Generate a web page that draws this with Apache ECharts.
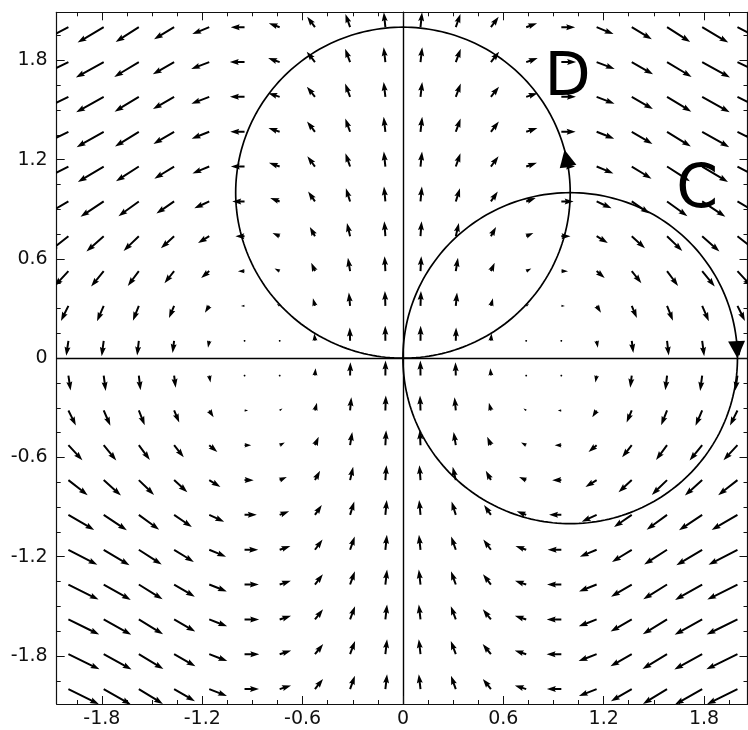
<!DOCTYPE html>
<html><head><meta charset="utf-8">
<script src="https://cdn.jsdelivr.net/npm/echarts@6/dist/echarts.min.js"></script>
<style>html,body{margin:0;padding:0;background:#fff}#c{width:748px;height:730px}</style>
</head><body><div id="c"></div>
<script>
// grid sample positions of the arrows
const gridX = [-2.0,-1.789,-1.579,-1.368,-1.158,-0.947,-0.737,-0.526,-0.316,-0.105,0.105,0.316,0.526,0.737,0.947,1.158,1.368,1.579,1.789,2.0];
const gridY = [-2.0,-1.789,-1.579,-1.368,-1.158,-0.947,-0.737,-0.526,-0.316,-0.105,0.105,0.316,0.526,0.737,0.947,1.158,1.368,1.579,1.789,2.0];

// horizontal component, one row per gridY value (bottom to top)
const fieldU = [
 [1.96,1.75,1.55,1.34,1.14,0.93,0.73,0.52,0.31,0.11,-0.11,-0.31,-0.52,-0.73,-0.93,-1.14,-1.34,-1.55,-1.75,-1.96],
 [2.0,1.79,1.58,1.37,1.16,0.95,0.74,0.53,0.32,0.11,-0.11,-0.32,-0.53,-0.74,-0.95,-1.16,-1.37,-1.58,-1.79,-2.0],
 [1.98,1.77,1.56,1.36,1.15,0.94,0.73,0.52,0.32,0.11,-0.11,-0.32,-0.52,-0.73,-0.94,-1.15,-1.36,-1.56,-1.77,-1.98],
 [1.94,1.74,1.53,1.33,1.13,0.92,0.72,0.51,0.31,0.11,-0.11,-0.31,-0.51,-0.72,-0.92,-1.13,-1.33,-1.53,-1.74,-1.94],
 [1.86,1.66,1.47,1.27,1.08,0.88,0.69,0.49,0.30,0.10,-0.10,-0.30,-0.49,-0.69,-0.88,-1.08,-1.27,-1.47,-1.66,-1.86],
 [1.66,1.49,1.31,1.14,0.96,0.79,0.61,0.44,0.27,0.09,-0.09,-0.27,-0.44,-0.61,-0.79,-0.96,-1.14,-1.31,-1.49,-1.66],
 [1.24,1.11,0.98,0.85,0.72,0.59,0.46,0.33,0.20,0.07,-0.07,-0.20,-0.33,-0.46,-0.59,-0.72,-0.85,-0.98,-1.11,-1.24],
 [0.90,0.81,0.71,0.62,0.52,0.43,0.33,0.24,0.14,0.05,-0.05,-0.14,-0.24,-0.33,-0.43,-0.52,-0.62,-0.71,-0.81,-0.90],
 [0.48,0.43,0.38,0.33,0.28,0.23,0.18,0.13,0.08,0.03,-0.03,-0.08,-0.13,-0.18,-0.23,-0.28,-0.33,-0.38,-0.43,-0.48],
 [0.14,0.13,0.11,0.10,0.08,0.07,0.05,0.04,0.02,0.01,-0.01,-0.02,-0.04,-0.05,-0.07,-0.08,-0.10,-0.11,-0.13,-0.14],
 [-0.14,-0.13,-0.11,-0.10,-0.08,-0.07,-0.05,-0.04,-0.02,-0.01,0.01,0.02,0.04,0.05,0.07,0.08,0.10,0.11,0.13,0.14],
 [-0.48,-0.43,-0.38,-0.33,-0.28,-0.23,-0.18,-0.13,-0.08,-0.03,0.03,0.08,0.13,0.18,0.23,0.28,0.33,0.38,0.43,0.48],
 [-0.90,-0.81,-0.71,-0.62,-0.52,-0.43,-0.33,-0.24,-0.14,-0.05,0.05,0.14,0.24,0.33,0.43,0.52,0.62,0.71,0.81,0.90],
 [-1.24,-1.11,-0.98,-0.85,-0.72,-0.59,-0.46,-0.33,-0.20,-0.07,0.07,0.20,0.33,0.46,0.59,0.72,0.85,0.98,1.11,1.24],
 [-1.66,-1.49,-1.31,-1.14,-0.96,-0.79,-0.61,-0.44,-0.27,-0.09,0.09,0.27,0.44,0.61,0.79,0.96,1.14,1.31,1.49,1.66],
 [-1.86,-1.66,-1.47,-1.27,-1.08,-0.88,-0.69,-0.49,-0.30,-0.10,0.10,0.30,0.49,0.69,0.88,1.08,1.27,1.47,1.66,1.86],
 [-1.94,-1.74,-1.53,-1.33,-1.13,-0.92,-0.72,-0.51,-0.31,-0.11,0.11,0.31,0.51,0.72,0.92,1.13,1.33,1.53,1.74,1.94],
 [-1.98,-1.77,-1.56,-1.36,-1.15,-0.94,-0.73,-0.52,-0.32,-0.11,0.11,0.32,0.52,0.73,0.94,1.15,1.36,1.56,1.77,1.98],
 [-2.0,-1.79,-1.58,-1.37,-1.16,-0.95,-0.74,-0.53,-0.32,-0.11,0.11,0.32,0.53,0.74,0.95,1.16,1.37,1.58,1.79,2.0],
 [-1.88,-1.68,-1.49,-1.29,-1.09,-0.89,-0.70,-0.50,-0.30,-0.10,0.10,0.30,0.50,0.70,0.89,1.09,1.29,1.49,1.68,1.88]
];

// vertical component, one row per gridY value (bottom to top)
const fieldV = [
 [-0.98,-1.0,-0.96,-0.79,-0.45,0.0,0.24,0.66,0.86,0.97,0.97,0.86,0.66,0.24,0.0,-0.45,-0.79,-0.96,-1.0,-0.98],
 [-0.98,-1.0,-0.96,-0.79,-0.45,0.0,0.24,0.66,0.86,0.97,0.97,0.86,0.66,0.24,0.0,-0.45,-0.79,-0.96,-1.0,-0.98],
 [-0.98,-1.0,-0.96,-0.79,-0.45,0.0,0.24,0.66,0.86,0.97,0.97,0.86,0.66,0.24,0.0,-0.45,-0.79,-0.96,-1.0,-0.98],
 [-0.98,-1.0,-0.96,-0.79,-0.45,0.0,0.24,0.66,0.86,0.97,0.97,0.86,0.66,0.24,0.0,-0.45,-0.79,-0.96,-1.0,-0.98],
 [-0.98,-1.0,-0.96,-0.79,-0.45,0.0,0.24,0.66,0.86,0.97,0.97,0.86,0.66,0.24,0.0,-0.45,-0.79,-0.96,-1.0,-0.98],
 [-0.98,-1.0,-0.96,-0.79,-0.45,0.0,0.23,0.64,0.86,0.97,0.97,0.86,0.64,0.23,0.0,-0.45,-0.79,-0.96,-1.0,-0.98],
 [-0.98,-1.0,-0.96,-0.79,-0.45,-0.01,0.20,0.60,0.86,0.97,0.97,0.86,0.60,0.20,-0.01,-0.45,-0.79,-0.96,-1.0,-0.98],
 [-0.98,-1.0,-0.96,-0.79,-0.45,-0.01,0.17,0.55,0.86,0.97,0.97,0.86,0.55,0.17,-0.01,-0.45,-0.79,-0.96,-1.0,-0.98],
 [-0.98,-1.0,-0.96,-0.79,-0.45,-0.01,0.12,0.50,0.86,0.97,0.97,0.86,0.50,0.12,-0.01,-0.45,-0.79,-0.96,-1.0,-0.98],
 [-0.98,-1.0,-0.96,-0.79,-0.45,-0.01,0.08,0.48,0.86,0.97,0.97,0.86,0.48,0.08,-0.01,-0.45,-0.79,-0.96,-1.0,-0.98],
 [-0.98,-1.0,-0.96,-0.79,-0.45,-0.01,0.08,0.48,0.86,0.97,0.97,0.86,0.48,0.08,-0.01,-0.45,-0.79,-0.96,-1.0,-0.98],
 [-0.98,-1.0,-0.96,-0.79,-0.45,-0.01,0.12,0.50,0.86,0.97,0.97,0.86,0.50,0.12,-0.01,-0.45,-0.79,-0.96,-1.0,-0.98],
 [-0.98,-1.0,-0.96,-0.79,-0.45,-0.01,0.17,0.55,0.86,0.97,0.97,0.86,0.55,0.17,-0.01,-0.45,-0.79,-0.96,-1.0,-0.98],
 [-0.98,-1.0,-0.96,-0.79,-0.45,-0.01,0.20,0.60,0.86,0.97,0.97,0.86,0.60,0.20,-0.01,-0.45,-0.79,-0.96,-1.0,-0.98],
 [-0.98,-1.0,-0.96,-0.79,-0.45,0.0,0.23,0.64,0.86,0.97,0.97,0.86,0.64,0.23,0.0,-0.45,-0.79,-0.96,-1.0,-0.98],
 [-0.98,-1.0,-0.96,-0.79,-0.45,0.0,0.24,0.66,0.86,0.97,0.97,0.86,0.66,0.24,0.0,-0.45,-0.79,-0.96,-1.0,-0.98],
 [-0.98,-1.0,-0.96,-0.79,-0.45,0.0,0.24,0.66,0.86,0.97,0.97,0.86,0.66,0.24,0.0,-0.45,-0.79,-0.96,-1.0,-0.98],
 [-0.98,-1.0,-0.96,-0.79,-0.45,0.0,0.24,0.66,0.86,0.97,0.97,0.86,0.66,0.24,0.0,-0.45,-0.79,-0.96,-1.0,-0.98],
 [-0.98,-1.0,-0.96,-0.79,-0.45,0.0,0.26,0.68,0.86,0.97,0.97,0.86,0.68,0.26,0.0,-0.45,-0.79,-0.96,-1.0,-0.98],
 [-0.98,-1.0,-0.96,-0.79,-0.45,0.0,0.26,0.68,0.86,0.97,0.97,0.86,0.68,0.26,0.0,-0.45,-0.79,-0.96,-1.0,-0.98]
];

// tick values
const majorTicks = [-1.8,-1.2,-0.6,0,0.6,1.2,1.8];
const minorTicks = [-1.95,-1.65,-1.5,-1.35,-1.05,-0.9,-0.75,-0.45,-0.3,-0.15,0.15,0.3,0.45,0.75,0.9,1.05,1.35,1.5,1.65,1.95];

// the two circles
const circleNames = ['D','C'];
const circleCX = [0, 1];
const circleCY = [1, 0];
const circleR = [1, 1];
const arrowTipDeg = [15, 0];     // where the orientation arrow head points
const arrowTurn = [1, -1];       // 1 = counter-clockwise, -1 = clockwise
const nameX = [0.985, 1.76];
const nameY = [1.685, 1.01];

const XMIN = -2.07, XMAX = 2.06, YMIN = -2.09, YMAX = 2.09;
const ARROW_SCALE = 0.093;
const W = 2.0, HL = 4.5, HAL = 4.0, HW = 3, MINLEN = 1;
const FONT = 'DejaVu Sans';

const fieldData = [];
for (let j = 0; j < gridY.length; j++) {
  for (let i = 0; i < gridX.length; i++) {
    fieldData.push([gridX[i], gridY[j], fieldU[j][i], fieldV[j][i]]);
  }
}
const circleData = circleCX.map((cx, k) => [cx, circleCY[k], circleR[k], arrowTipDeg[k], arrowTurn[k]]);
const nameData = nameX.map((x, k) => [x, nameY[k], k]);

function renderArrow(params, api) {
  const x = api.value(0), y = api.value(1), u = api.value(2), v = api.value(3);
  const p0 = api.coord([x, y]);
  const p1 = api.coord([x + u * ARROW_SCALE, y + v * ARROW_SCALE]);
  const dx = p1[0] - p0[0], dy = p1[1] - p0[1];
  const Lpx = Math.hypot(dx, dy);
  const L = Lpx / W;
  let pts = [];
  if (L < MINLEN) {
    for (let k = 0; k < 6; k++) {
      const a = k * Math.PI / 3;
      pts.push([p0[0] + Math.cos(a) * 0.5 * MINLEN * W, p0[1] + Math.sin(a) * 0.5 * MINLEN * W]);
    }
  } else {
    const c = dx / Lpx, s = dy / Lpx;
    let X, Y;
    if (L < HL) {
      const sh = L / HL;
      X = [0, HL - HAL, 0, HL].map(t => t * sh);
      Y = [0.5, 0.5, 0.5 * HW, 0].map(t => t * sh);
    } else {
      X = [0, L - HAL, L - HL, L];
      Y = [0.5, 0.5, 0.5 * HW, 0];
    }
    const order = [[0,1],[1,1],[2,1],[3,1],[2,-1],[1,-1],[0,-1]];
    pts = order.map(([k, sg]) => {
      const px = X[k] * W, py = sg * Y[k] * W;
      return [p0[0] + px * c - py * s, p0[1] + px * s + py * c];
    });
  }
  return { type: 'polygon', shape: { points: pts }, style: { fill: '#000' } };
}

function renderCircle(params, api) {
  const cx = api.value(0), cy = api.value(1), r = api.value(2), tip = api.value(3), turn = api.value(4);
  const pts = [];
  const n = 240;
  for (let k = 0; k <= n; k++) {
    const a = 2 * Math.PI * k / n;
    pts.push(api.coord([cx + r * Math.cos(a), cy + r * Math.sin(a)]));
  }
  const ta = tip * Math.PI / 180;
  const ba = (tip - turn * 6) * Math.PI / 180;
  const pt = api.coord([cx + r * Math.cos(ta), cy + r * Math.sin(ta)]);
  const pb = api.coord([cx + r * Math.cos(ba), cy + r * Math.sin(ba)]);
  let dx = pt[0] - pb[0], dy = pt[1] - pb[1];
  const d = Math.hypot(dx, dy); dx /= d; dy /= d;
  const hl = 17, hw = 8.5;
  const bc = [pt[0] - dx * hl, pt[1] - dy * hl];
  const head = [pt, [bc[0] - dy * hw, bc[1] + dx * hw], [bc[0] + dy * hw, bc[1] - dx * hw]];
  return {
    type: 'group',
    children: [
      { type: 'polyline', shape: { points: pts }, style: { stroke: '#000', lineWidth: 1.7, fill: null } },
      { type: 'polygon', shape: { points: head }, style: { fill: '#000' } }
    ]
  };
}

function renderName(params, api) {
  const p = api.coord([api.value(0), api.value(1)]);
  return {
    type: 'text', x: p[0], y: p[1],
    style: { text: circleNames[api.value(2)], fontSize: 60, fontFamily: FONT, fill: '#000', align: 'center', verticalAlign: 'middle' }
  };
}

const lineStyle = { color: '#111', width: 1.2 };
function frameAxis(pos, ticks, len, withLine, withLabel, isX) {
  return {
    type: 'value', position: pos,
    min: isX ? XMIN : YMIN, max: isX ? XMAX : YMAX,
    axisLine: { show: withLine, onZero: false, lineStyle },
    axisTick: { show: true, inside: true, length: len, customValues: ticks, lineStyle: { color: '#111', width: 1 } },
    axisLabel: withLabel ? {
      show: true, customValues: majorTicks, margin: isX ? 6 : 9,
      fontSize: 19, fontFamily: FONT, color: '#111',
      formatter: v => String(v)
    } : { show: false },
    splitLine: { show: false }
  };
}
function originAxis(isX) {
  return {
    type: 'value', min: isX ? XMIN : YMIN, max: isX ? XMAX : YMAX,
    axisLine: { show: true, onZero: true, onZeroAxisIndex: 0, lineStyle: { color: '#000', width: 1.4 } },
    axisTick: { show: false }, axisLabel: { show: false }, splitLine: { show: false }
  };
}

const chart = echarts.init(document.getElementById('c'), null, { renderer: 'canvas' });
chart.setOption({
  animation: false,
  backgroundColor: '#fff',
  grid: { left: 56.7, right: 0.5, top: 12.3, bottom: 26, containLabel: false },
  xAxis: [
    frameAxis('bottom', majorTicks, 8, true, true, true),
    frameAxis('bottom', minorTicks, 4, false, false, true),
    frameAxis('top', majorTicks, 8, true, false, true),
    frameAxis('top', minorTicks, 4, false, false, true),
    originAxis(true)
  ],
  yAxis: [
    frameAxis('left', majorTicks, 8, true, true, false),
    frameAxis('left', minorTicks, 4, false, false, false),
    frameAxis('right', majorTicks, 8, true, false, false),
    frameAxis('right', minorTicks, 4, false, false, false),
    originAxis(false)
  ],
  series: [
    { type: 'custom', name: 'field', xAxisIndex: 0, yAxisIndex: 0, clip: true, silent: true,
      renderItem: renderArrow, data: fieldData, encode: { x: 0, y: 1 }, z: 2 },
    { type: 'custom', name: 'circles', xAxisIndex: 0, yAxisIndex: 0, clip: true, silent: true,
      renderItem: renderCircle, data: circleData, encode: { x: 0, y: 1 }, z: 3 },
    { type: 'custom', name: 'names', xAxisIndex: 0, yAxisIndex: 0, silent: true,
      renderItem: renderName, data: nameData, encode: { x: 0, y: 1 }, z: 4 }
  ]
});
</script>
</body></html>
